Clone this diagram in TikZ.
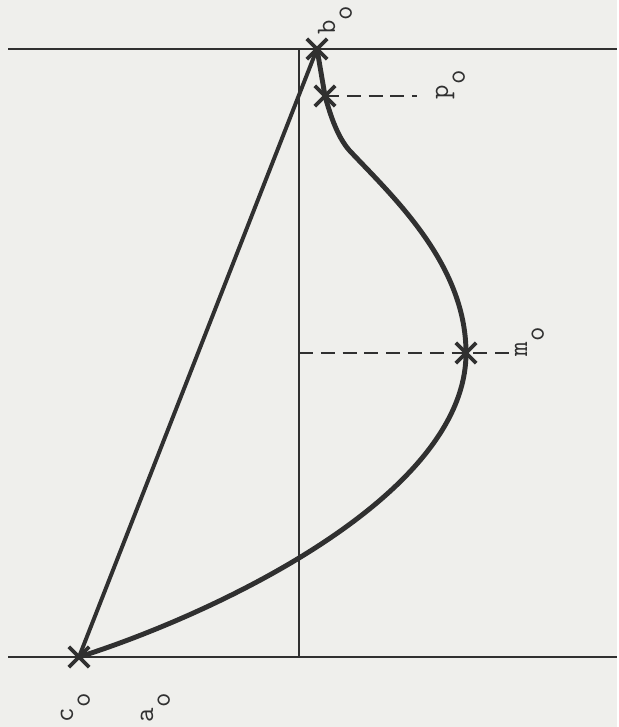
\documentclass[tikz,border=0pt]{standalone}
\usepackage{fontspec}
\usepackage{tikz}
\usetikzlibrary{shapes.misc}
\definecolor{paper}{RGB}{239,239,236}
\definecolor{ink}{RGB}{48,48,48}

\begin{document}
\begin{tikzpicture}[x=0.025cm, y=0.025cm, ink,
		rule/.style={line width=1.5pt},
		thinrule/.style={line width=1pt},
		curve/.style={line width=3.5pt, line cap=round, line join=round},
		chord/.style={line width=2.8pt, line cap=round},
		guide/.style={line width=2pt, dash pattern=on 10pt off 5.5pt},
		xmark/.style={cross out, draw, line width=2.6pt, minimum size=0.42cm, inner sep=0pt},
		lbl/.style={rotate=90, anchor=base west, inner sep=0pt, font=\ttfamily\fontsize{20}{24}\selectfont}]
		\fill[paper] (0, 0) rectangle (617, 727);

		\coordinate (TL) at (8, 678);
		\coordinate (TR) at (617, 678);
		\coordinate (BL) at (8, 70);
		\coordinate (BR) at (617, 70);
		\coordinate (vtop) at (299, 678);
		\coordinate (vbot) at (299, 70);
		\coordinate (pend) at (417, 631);
		\coordinate (mleft) at (299, 374);
		\coordinate (mright) at (512, 374);
		\coordinate (bend) at (349, 577);

		\draw[rule] (TL) -- (TR);
		\draw[rule] (BL) -- (BR);
		\draw[thinrule] (vbot) -- (vtop);

		\node[xmark] (c) at (79, 70) {};
		\node[xmark] (b) at (317, 678) {};
		\node[xmark] (p) at (325, 631) {};
		\node[xmark] (m) at (466, 374) {};

		\draw[guide] (p.center) -- (pend);
		\draw[guide] (mleft) -- (mright);
		\draw[chord] (c.center) -- (b.center);
		\draw[curve] (c.center) .. controls (212, 112) and (466, 230) .. (m.center)
			.. controls (466, 464) and (391, 532) .. (bend)
			.. controls (336, 592) and (329, 617) .. (p.center) -- (b.center);

		\node[lbl] (blbl) at (335, 692) {b\raisebox{-1.4ex}{o}};
		\node[lbl] (plbl) at (448, 627.5) {p\raisebox{-1.4ex}{o}};
		\node[lbl] (mlbl) at (527, 370.5) {m\raisebox{-1.4ex}{o}};
		\node[lbl] (clbl) at (73, 4.5) {c\raisebox{-1.4ex}{o}};
		\node[lbl] (albl) at (153, 4.5) {a\raisebox{-1.4ex}{o}};
	\end{tikzpicture}
\end{document}
